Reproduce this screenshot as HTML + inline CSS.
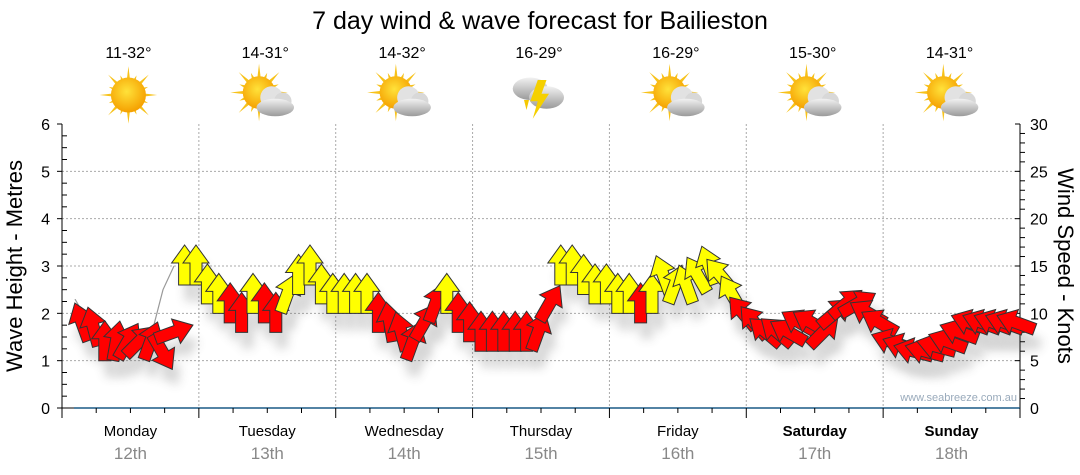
<!DOCTYPE html>
<html><head><meta charset="utf-8"><style>
html,body{margin:0;padding:0;background:#fff;}
svg{display:block;font-family:"Liberation Sans",sans-serif;}
</style></head><body>
<svg id="chart" width="1080" height="475" viewBox="0 0 1080 475">
<defs>
<filter id="sh" x="-50%" y="-50%" width="200%" height="200%"><feGaussianBlur stdDeviation="5"/></filter>
<radialGradient id="sun" cx="45%" cy="40%" r="60%"><stop offset="0" stop-color="#ffe23a"/><stop offset="1" stop-color="#f5a000"/></radialGradient>
<linearGradient id="cloud" x1="0" y1="0" x2="0" y2="1"><stop offset="0" stop-color="#f2f2f2"/><stop offset="1" stop-color="#9a9a9a"/></linearGradient>
</defs>
<text x="540" y="29" text-anchor="middle" font-size="25" fill="#000">7 day wind &amp; wave forecast for Bailieston</text>
<g id="grid"></g>
<g id="icons"></g>
<g id="axes"></g>
<path id="wave" fill="none" stroke="#999" stroke-width="1.2"/>
<g id="shadows" opacity="0.22"></g>
<g id="arrows"></g>
<text x="1017" y="401" text-anchor="end" font-size="11" fill="#9ab">www.seabreeze.com.au</text>
<text transform="translate(22,266) rotate(-90)" text-anchor="middle" font-size="22" fill="#000">Wave Height - Metres</text>
<text transform="translate(1058,266) rotate(90)" text-anchor="middle" font-size="22" fill="#000">Wind Speed - Knots</text>
</svg>
<script>
const days=["Monday","Tuesday","Wednesday","Thursday","Friday","Saturday","Sunday"];
const dates=["12th","13th","14th","15th","16th","17th","18th"];
const temps=["11-32°","14-31°","14-32°","16-29°","16-29°","15-30°","14-31°"];
const weather=["sun","partly","partly","storm","partly","partly","partly"];
const waveTicks=[0,1,2,3,4,5,6];
const windTicks=[0,5,10,15,20,25,30];
const windSpeed=[9,8.5,7,7,7,7,7,6,8,15, 15,13,12,11,10,12,11,10,12,14,15,13, 12,12,12,12,10,9,8,7,9,11,12, 10,9,8,8,8,8,8,8,11,15,15,14,13, 13,12,12,11,12,14,13,13,14,15,14,12, 10,9,8,8,8,9,9,8,10,11,11, 10,9,7,6.5,6,6,6.5,7,8,9,9,9,9,9];
const windDir=[340,345,0,10,30,45,20,150,70,0, 0,0,0,0,0,0,0,0,20,0,0,0, 0,0,0,0,0,350,345,20,30,20,0, 0,0,0,0,0,0,0,20,30,0,0,0,0, 0,0,0,0,0,340,20,340,330,340,320,330, 320,320,310,310,300,300,300,45,50,50,60, 300,300,290,290,285,285,285,290,290,290,290,290,290,290];
const windColor=["r","r","r","r","r","r","r","r","r","y", "y","y","y","r","r","y","r","r","y","y","y","y", "y","y","y","y","r","r","r","r","r","r","y", "r","r","r","r","r","r","r","r","r","y","y","y","y", "y","y","y","r","y","y","y","y","y","y","y","y", "r","r","r","r","r","r","r","r","r","r","r", "r","r","r","r","r","r","r","r","r","r","r","r","r","r"];
const waveHeight=[2.3,1.9,1.6,1.5,1.5,1.4,1.4,1.6,2.5,3.0];
const NS="http://www.w3.org/2000/svg";
const X0=62,X1=1020,Y0=408,Y1=124,DAYW=(X1-X0)/7;
const yW=v=>Y0-(v/6)*(Y0-Y1);
const yK=v=>Y0-(v/30)*(Y0-Y1);
const STEP=11.4,XA=82;
const xi=i=>XA+i*STEP;
function mk(tag,attrs,parent){const e=document.createElementNS(NS,tag);for(const k in attrs)e.setAttribute(k,attrs[k]);parent.appendChild(e);return e;}
const grid=document.getElementById('grid'),axes=document.getElementById('axes'),icons=document.getElementById('icons');
waveTicks.forEach(v=>{if(v>0&&v<6){const l=mk('line',{x1:X0,x2:X1,y1:yW(v),y2:yW(v),stroke:'#aaa','stroke-dasharray':'2,2','stroke-width':1},grid);

}
const t=mk('text',{x:50,y:yW(v)+6,'text-anchor':'end','font-size':16},axes);t.textContent=v;

});
windTicks.forEach(v=>{const t=mk('text',{x:1030,y:yK(v)+6,'font-size':16},axes);t.textContent=v;

});
for(let v=0;v<=6.001;v+=0.25){mk('line',{x1:X0,x2:X0+(Number.isInteger(v)?-5:5),y1:yW(v),y2:yW(v),stroke:'#000'},axes);}
for(let v=0;v<=30;v++){mk('line',{x1:X1,x2:X1+(v%5==0?-5:5),y1:yK(v),y2:yK(v),stroke:'#000'},axes);}
mk('line',{x1:X0,x2:X0,y1:Y1,y2:Y0,stroke:'#000'},axes);
mk('line',{x1:X1,x2:X1,y1:Y1,y2:Y0,stroke:'#000'},axes);
mk('line',{x1:X0,x2:X0+12,y1:Y0,y2:Y0,stroke:'#000'},axes);
mk('line',{x1:X0+12,x2:X1,y1:Y0,y2:Y0,stroke:'#1a5a85','stroke-width':1.5},axes);
for(let q=0;q<=28;q++){const x=X0+q*DAYW/4;mk('line',{x1:x,x2:x,y1:Y0,y2:Y0+(q%4==0?10:5),stroke:'#000'},axes);}
days.forEach((d,i)=>{const cx=X0+(i+0.5)*DAYW,bx=X0+(i+1)*DAYW;
if(i<6){const l=mk('line',{x1:bx,x2:bx,y1:Y1,y2:Y0,stroke:'#aaa','stroke-dasharray':'2,2'},grid);

}
const t=mk('text',{x:cx,y:436,'text-anchor':'middle','font-size':15,'font-weight':i>=5?'bold':'normal'},axes);t.textContent=d;


const t2=mk('text',{x:cx,y:459,'text-anchor':'middle','font-size':17,fill:'#888'},axes);t2.textContent=dates[i];


const t3=mk('text',{x:cx-2,y:58,'text-anchor':'middle','font-size':16},icons);t3.textContent=temps[i];


const g=mk('g',{transform:`translate(${cx-2},95) scale(1.25)`},icons);


const w=weather[i];
if(w!=='storm'){const sx=w==='sun'?0:-5,sy=w==='sun'?0:-2;
for(let a=0;a<16;a++){const ang=a*Math.PI/8,r=a%2?17:23;mk('polygon',{points:`${sx+Math.cos(ang-0.13)*11},${sy+Math.sin(ang-0.13)*11} ${sx+Math.cos(ang)*r},${sy+Math.sin(ang)*r} ${sx+Math.cos(ang+0.13)*11},${sy+Math.sin(ang+0.13)*11}`,fill:'#f7c21a'},g);}
mk('circle',{cx:sx,cy:sy,r:w==='sun'?14:13,fill:'url(#sun)'},g);
if(w==='partly'){mk('circle',{cx:5,cy:2,r:9,fill:'#e2e2e2'},g);mk('circle',{cx:14,cy:5,r:7,fill:'#d8d8d8'},g);mk('ellipse',{cx:8,cy:10,rx:15,ry:7,fill:'url(#cloud)'},g);}
}else{
mk('polygon',{points:'-12,4 -8,4 -10,12',fill:'#f5c800'},g);
mk('ellipse',{cx:-7,cy:-5,rx:14,ry:9,fill:'url(#cloud)'},g);mk('ellipse',{cx:6,cy:2,rx:14,ry:9,fill:'url(#cloud)'},g);
mk('polygon',{points:'-1,-12 -7,5 -1,5 -5,19 8,-1 2,-1 6,-12',fill:'#f5d000'},g);}
});
let d='';waveHeight.forEach((v,i)=>{d+=(i?'L':'M')+(75+i*11)+','+yW(v);});
document.getElementById('wave').setAttribute('d',d);
const arrowPath='M0,-21 L13,-3 L6,-3 L6,19 L-6,19 L-6,-3 L-13,-3 Z';
const sg=document.getElementById('shadows'),ag=document.getElementById('arrows');
windSpeed.forEach((v,i)=>{const x=xi(i),y=yK(v);
const s=mk('path',{d:arrowPath,transform:`translate(${x+6},${y+16}) rotate(${windDir[i]})`,fill:'#444',filter:'url(#sh)'},sg);


const a=mk('path',{d:arrowPath,transform:`translate(${x},${y}) rotate(${windDir[i]})`,fill:windColor[i]==='y'?'#ffff00':'#ff0000',stroke:'#333','stroke-width':1},ag);

});
</script>
</body></html>
